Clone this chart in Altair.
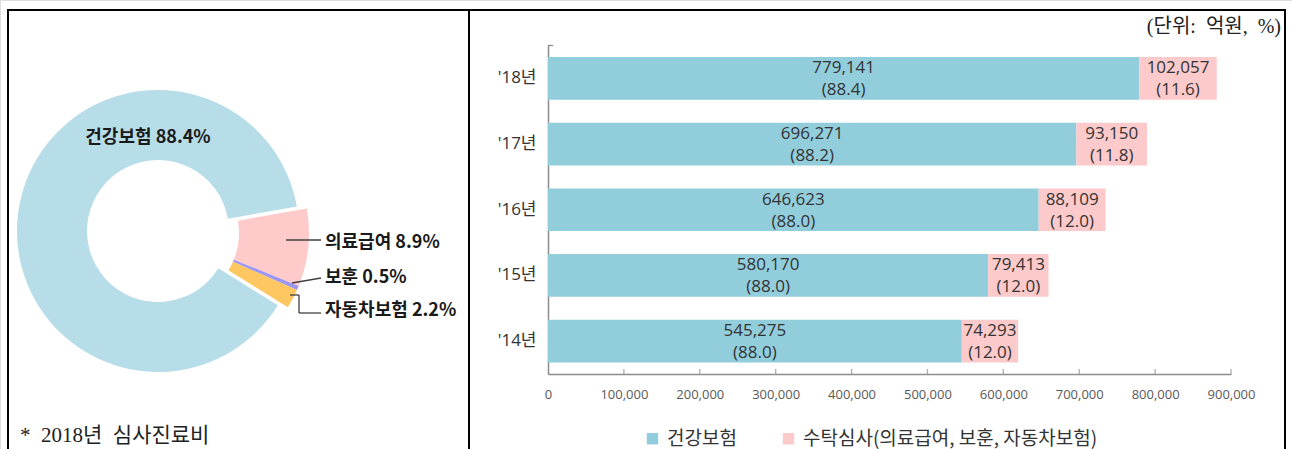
import altair as alt
import pandas as pd

# ---------------- data ----------------
years = ["'18년", "'17년", "'16년", "'15년", "'14년"]
health = [779141, 696271, 646623, 580170, 545275]
health_pct = [88.4, 88.2, 88.0, 88.0, 88.0]
consign = [102057, 93150, 88109, 79413, 74293]
consign_pct = [11.6, 11.8, 12.0, 12.0, 12.0]
series_names = ["건강보험", "수탁심사(의료급여, 보훈, 자동차보험)"]
x_ticks = [0, 100000, 200000, 300000, 400000, 500000, 600000, 700000, 800000, 900000]

parts = ["의료급여", "보훈", "자동차보험", "건강보험"]
part_pct = [8.9, 0.5, 2.2, 88.4]

NB = "\u00a0"
unit_text = f"(단위:{NB}{NB}억원,{NB}{NB}%)"
note_text = f"*{NB}{NB}2018년{NB}{NB}심사진료비"

# ---------------- styles ----------------
BAR_COLORS = ["#92CDDC", "#FCCACA"]
PIE_COLORS = ["#FFCACA", "#9C97F2", "#FFC762", "#B7DDE8"]
KFONT = "Noto Sans CJK KR"
NFONT = "Open Sans, Noto Sans CJK KR"
SFONT = "Liberation Serif, Noto Sans CJK KR"

rows = []
for i, y in enumerate(years):
    rows.append({"year": y, "series": series_names[0], "order": 0, "value": health[i],
                 "mid": health[i] / 2, "label": f"{health[i]:,}\n({health_pct[i]:.1f})"})
    rows.append({"year": y, "series": series_names[1], "order": 1, "value": consign[i],
                 "mid": health[i] + consign[i] / 2, "label": f"{consign[i]:,}\n({consign_pct[i]:.1f})"})
bar_df = pd.DataFrame(rows)
tick_df = pd.DataFrame({"v": x_ticks[1:]})

xscale = alt.Scale(domain=[0, 900000], range=[548, 1231], nice=False, zero=True)
yscale = alt.Scale(domain=years, range=[45.5, 374], paddingInner=0.35, paddingOuter=0.175)

x_axis = alt.Axis(values=x_ticks, labelExpr="format(datum.value, ',')", offset=-75,
                  title=None, grid=False, ticks=False, labelPadding=14, labelFont=NFONT,
                  labelFontSize=13, labelColor="#595959", domainColor="#8C8C8C",
                  domainWidth=1.5, labelFlush=False, labelOverlap=False)
y_axis = alt.Axis(offset=-548, title=None, ticks=False, labelPadding=12,
                  labelFont=NFONT, labelFontSize=17, labelColor="#333333",
                  domainColor="#8C8C8C", domainWidth=1.5)

bars = alt.Chart(bar_df).mark_bar().encode(
    x=alt.X("value:Q", stack="zero", scale=xscale, axis=x_axis),
    y=alt.Y("year:N", scale=yscale, sort=years, axis=y_axis),
    color=alt.Color("series:N", scale=alt.Scale(domain=series_names, range=BAR_COLORS),
                    legend=alt.Legend(orient="none", legendX=643, legendY=429, direction="horizontal",
                                      title=None, symbolType="square", symbolSize=130,
                                      symbolStrokeWidth=0, labelFont=KFONT, labelFontSize=19,
                                      labelColor="#333333", columnPadding=42, labelOffset=5,
                                      padding=0, labelLimit=600)),
    order=alt.Order("order:Q"),
)

bar_text = alt.Chart(bar_df).mark_text(
    lineBreak="\n", lineHeight=22, font=NFONT, fontSize=17, color="#333333",
    align="center", baseline="middle", dy=-10
).encode(
    x=alt.X("mid:Q", scale=xscale, axis=x_axis),
    y=alt.Y("year:N", scale=yscale, sort=years, axis=y_axis),
    text="label:N",
)

x_inner_ticks = alt.Chart(tick_df).mark_tick(color="#8C8C8C", thickness=1.3, size=5).encode(
    x=alt.X("v:Q", scale=xscale, axis=x_axis),
    y=alt.value(371.5),
)

bar_chart = alt.layer(bars, bar_text, x_inner_ticks)

# ---------------- donut ----------------
pie_df = pd.DataFrame({"part": parts, "pct": part_pct, "k": list(range(len(parts)))})
start = 80 * 3.14159265 / 180
theta_scale = alt.Scale(range=[start, start + 2 * 3.14159265])


def donut(cx, cy, show_main):
    test = "datum.part === '건강보험'" if show_main else "datum.part !== '건강보험'"
    return alt.Chart(pie_df).mark_arc(outerRadius=141, innerRadius=71).encode(
        theta=alt.Theta("pct:Q", stack=True, scale=theta_scale),
        order=alt.Order("k:Q"),
        color=alt.Color("part:N", scale=alt.Scale(domain=parts, range=PIE_COLORS), legend=None),
        opacity=alt.condition(test, alt.value(1), alt.value(0)),
        x=alt.value(cx),
        y=alt.value(cy),
    )


pie_main = donut(158, 231, True)
pie_small = donut(168, 233, False)

# donut labels
label_pos = {"건강보험": (148, 138, "center"), "의료급여": (325, 243, "left"),
             "보훈": (325, 278, "left"), "자동차보험": (325, 311, "left")}
pie_labels = []
for name, pct in zip(parts, part_pct):
    lx, ly, al = label_pos[name]
    pie_labels.append(
        alt.Chart(alt.Data(values=[{"t": f"{name} {pct}%"}])).mark_text(
            font=KFONT, fontSize=18, fontWeight="bold", color="#1a1a1a", align=al, baseline="middle"
        ).encode(text="t:N", x=alt.value(lx), y=alt.value(ly))
    )

one = alt.Data(values=[{}])


def seg(x1, y1, x2, y2, color="#404040", w=1.3):
    return alt.Chart(one).mark_rule(color=color, strokeWidth=w).encode(
        x=alt.value(x1), y=alt.value(y1), x2=alt.value(x2), y2=alt.value(y2))


leaders = [
    seg(286, 240, 321, 240),
    seg(292, 283, 321, 278),
    seg(290, 295, 299, 295),
    seg(299, 295, 299, 313),
    seg(299, 313, 321, 313),
]

axis_caps = [
    seg(548, 45.5, 553, 45.5, "#8C8C8C", 1.3),
]

borders = [
    seg(7, 10, 1286, 10, "#000000", 2),
    seg(8, 10, 8, 449, "#000000", 2),
    seg(469, 10, 469, 449, "#000000", 2),
    seg(1285, 10, 1285, 449, "#000000", 2),
]

unit = alt.Chart(alt.Data(values=[{"t": unit_text}])).mark_text(
    font=SFONT, fontSize=20, color="#222222", align="right", baseline="middle"
).encode(text="t:N", x=alt.value(1281), y=alt.value(27))

note = alt.Chart(alt.Data(values=[{"t": note_text}])).mark_text(
    font=SFONT, fontSize=21, color="#222222", align="left", baseline="middle"
).encode(text="t:N", x=alt.value(20), y=alt.value(436))

chart = alt.layer(
    bar_chart, pie_main, pie_small, *pie_labels, *leaders, *axis_caps, *borders, unit, note
).resolve_scale(color="independent").properties(
    width=1292, height=449,
    autosize=alt.AutoSizeParams(type="none"),
    padding=0,
).configure_view(stroke=None).configure(background="white")

chart.save("out.html", embed_options={"renderer": "svg", "actions": False})
